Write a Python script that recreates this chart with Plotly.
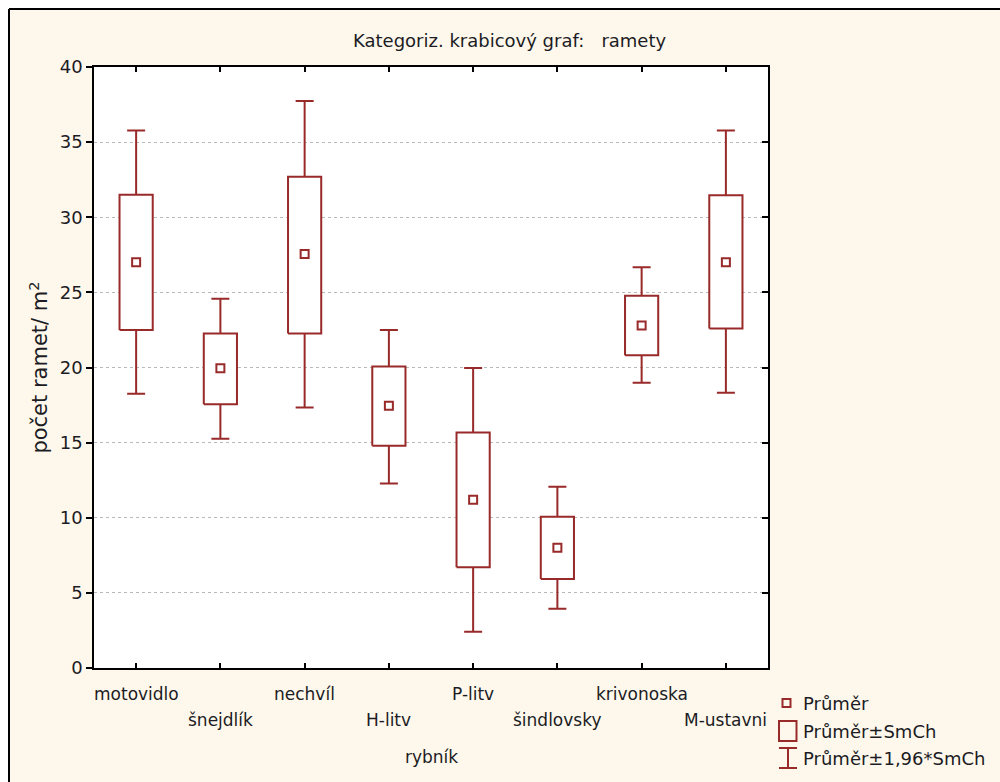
import plotly.graph_objects as go

# ---- data ----
categories = ["motovidlo", "šnejdlík", "nechvíl", "H-litv", "P-litv",
              "šindlovsky", "krivonoska", "M-ustavni"]
mean_vals = [27.0, 19.95, 27.55, 17.45, 11.2, 8.0, 22.8, 27.0]
se_low = [22.5, 17.55, 22.27, 14.8, 6.7, 5.92, 20.82, 22.6]     # mean - SE
se_high = [31.5, 22.26, 32.7, 20.07, 15.68, 10.07, 24.78, 31.47]  # mean + SE
ci_low = [18.25, 15.25, 17.34, 12.28, 2.42, 3.95, 18.98, 18.32]   # mean - 1.96*SE
ci_high = [35.77, 24.57, 37.74, 22.49, 19.96, 12.06, 26.68, 35.77]  # mean + 1.96*SE
y_ticks = [0, 5, 10, 15, 20, 25, 30, 35, 40]

title_text = "Kategoriz. krabicový graf:   ramety"
y_title = "počet ramet/ m<sup>2</sup>"
x_title = "rybník"
legend_labels = ["Průměr", "Průměr±SmCh", "Průměr±1,96*SmCh"]

# ---- style ----
RED = "#992a2a"
CREAM = "#fef8ec"
FONT = "DejaVu Sans"
TXT = "#1c1c24"
W, H = 1000, 782
L, R, T, B = 94, 768, 67, 668
BOX_HALF = 0.197


def px_x(p):
    return (p - L) / (R - L)


def px_y(p):
    return (B - p) / (B - T)


xs = list(range(len(categories)))

fig = go.Figure()

# whiskers (mean ± 1.96*SE) as error bars
fig.add_trace(go.Scatter(
    x=xs, y=mean_vals, mode="markers",
    marker=dict(size=1, color="rgba(0,0,0,0)"),
    error_y=dict(type="data", symmetric=False,
                 array=[h - m for h, m in zip(ci_high, mean_vals)],
                 arrayminus=[m - l for m, l in zip(mean_vals, ci_low)],
                 color=RED, thickness=2, width=9),
    showlegend=False, hoverinfo="skip"))

# boxes (mean ± SE)
bx, by = [], []
for i, lo, hi in zip(xs, se_low, se_high):
    bx += [i - BOX_HALF, i + BOX_HALF, i + BOX_HALF, i - BOX_HALF, i - BOX_HALF, None]
    by += [lo, lo, hi, hi, lo, None]
fig.add_trace(go.Scatter(
    x=bx, y=by, mode="lines", fill="toself", fillcolor="white",
    line=dict(color=RED, width=2), showlegend=False, hoverinfo="skip"))

# means (on overlay axes, which also carry the mirrored inside ticks)
fig.add_trace(go.Scatter(
    x=xs, y=mean_vals, mode="markers", xaxis="x2", yaxis="y2",
    marker=dict(symbol="square-open", size=8, color=RED,
                line=dict(width=2, color=RED)),
    showlegend=False, hoverinfo="skip"))

axis_common = dict(showline=False, zeroline=False)
fig.update_layout(
    width=W, height=H,
    margin=dict(l=L, r=W - R, t=T, b=H - B, pad=0),
    paper_bgcolor=CREAM, plot_bgcolor="white",
    font=dict(family=FONT, size=18, color=TXT),
    showlegend=False,
    xaxis=dict(range=[-0.5, len(categories) - 0.5], tickvals=xs,
               ticks="inside", ticklen=5, tickwidth=1.5, tickcolor="black",
               showticklabels=False, showgrid=False, zeroline=False,
               showline=True, linecolor="black", linewidth=1.5, mirror=True),
    yaxis=dict(range=[0, 40], tickvals=y_ticks, ticks="outside", ticklen=6,
               tickwidth=1.5, tickcolor="black",
               tickfont=dict(family=FONT, size=18, color=TXT),
               showgrid=True, gridcolor="#b8b8b8", gridwidth=1, griddash="dot",
               zeroline=False, showline=True, linecolor="black", linewidth=1.5,
               mirror=True,
               title=dict(text=y_title, font=dict(family=FONT, size=21, color=TXT),
                          standoff=6)),
    xaxis2=dict(range=[-0.5, len(categories) - 0.5], tickvals=xs,
                overlaying="x", side="top", anchor="y2", ticks="inside",
                ticklen=5, tickwidth=1.5, tickcolor="black",
                showticklabels=False, showgrid=False, **axis_common),
    yaxis2=dict(range=[0, 40], tickvals=y_ticks, overlaying="y", side="right",
                anchor="x2", ticks="inside", ticklen=6, tickwidth=1.5,
                tickcolor="black", showticklabels=False, showgrid=False,
                **axis_common),
)

annotations = []
# title
annotations.append(dict(text=title_text, xref="paper", yref="paper",
                        x=px_x(509), y=px_y(40), showarrow=False,
                        xanchor="center", yanchor="middle",
                        font=dict(family=FONT, size=18, color=TXT)))
# staggered category labels
row_y = [694, 720]
for i, name in enumerate(categories):
    annotations.append(dict(text=name, xref="x", yref="paper", x=i,
                            y=px_y(row_y[i % 2]), showarrow=False,
                            xanchor="center", yanchor="middle",
                            font=dict(family=FONT, size=17, color=TXT)))
# x-axis title
annotations.append(dict(text=x_title, xref="paper", yref="paper", x=0.5,
                        y=px_y(757), showarrow=False, xanchor="center",
                        yanchor="middle", font=dict(family=FONT, size=17, color=TXT)))
# legend text
leg_y = [703, 731, 758]
for lab, yy in zip(legend_labels, leg_y):
    annotations.append(dict(text=lab, xref="paper", yref="paper", x=px_x(801),
                            y=px_y(yy), showarrow=False, xanchor="left",
                            yanchor="middle",
                            font=dict(family=FONT, size=18, color=TXT)))
fig.update_layout(annotations=annotations)

shapes = []
# white margin outside the outer frame
shapes.append(dict(type="rect", xref="paper", yref="paper",
                   x0=px_x(-5), x1=px_x(W + 5), y0=px_y(-5), y1=px_y(9),
                   fillcolor="white", line=dict(width=0), layer="below"))
shapes.append(dict(type="rect", xref="paper", yref="paper",
                   x0=px_x(-5), x1=px_x(9), y0=px_y(-5), y1=px_y(H + 5),
                   fillcolor="white", line=dict(width=0), layer="below"))
# outer frame lines
shapes.append(dict(type="line", xref="paper", yref="paper",
                   x0=px_x(9), x1=px_x(W + 5), y0=px_y(9), y1=px_y(9),
                   line=dict(color="black", width=2)))
shapes.append(dict(type="line", xref="paper", yref="paper",
                   x0=px_x(9), x1=px_x(9), y0=px_y(9), y1=px_y(H + 5),
                   line=dict(color="black", width=2)))
# legend icons
shapes.append(dict(type="rect", xref="paper", yref="paper",
                   x0=px_x(782.5), x1=px_x(790.5), y0=px_y(707), y1=px_y(699),
                   line=dict(color=RED, width=2)))
shapes.append(dict(type="rect", xref="paper", yref="paper",
                   x0=px_x(779), x1=px_x(796.5), y0=px_y(741), y1=px_y(721),
                   line=dict(color=RED, width=2)))
ib_path = (f"M{px_x(779)},{px_y(748)} L{px_x(797)},{px_y(748)} "
           f"M{px_x(788)},{px_y(748)} L{px_x(788)},{px_y(768)} "
           f"M{px_x(779)},{px_y(768)} L{px_x(797)},{px_y(768)}")
shapes.append(dict(type="path", xref="paper", yref="paper", path=ib_path,
                   line=dict(color=RED, width=2)))
fig.update_layout(shapes=shapes)

fig.write_html("out.html")
